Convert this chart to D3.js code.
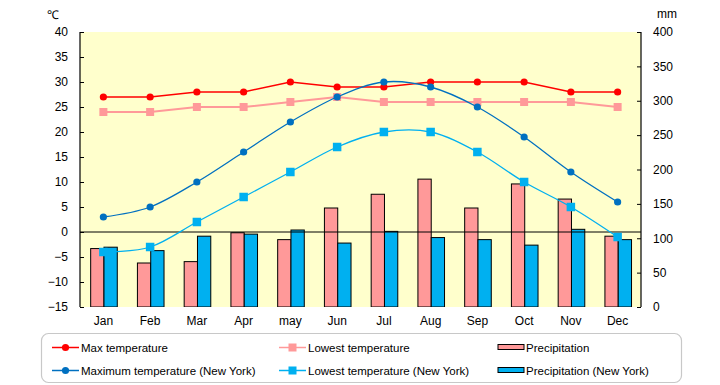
<!DOCTYPE html>
<html>
<head>
<meta charset="utf-8">
<script src="https://cdn.jsdelivr.net/npm/d3@7"></script>
<style>
  html, body { margin: 0; padding: 0; background: #fff; }
  svg text { font-family: "Liberation Sans", Arial, sans-serif; fill: #000; }
</style>
</head>
<body>
<svg id="chart" width="720" height="385"></svg>
<script>
const months = ["Jan","Feb","Mar","Apr","may","Jun","Jul","Aug","Sep","Oct","Nov","Dec"];
const maxTemp = [27,27,28,28,30,29,29,30,30,30,28,28];
const lowTemp = [24,24,25,25,26,27,26,26,26,26,26,25];
const precip = [85,64,66,108,98,144,164,186,144,179,157,103];
const maxTempNY = [3,5,10,16,22,27,30,29,25,19,12,6];
const lowTempNY = [-4,-3,2,7,12,17,20,20,16,10,5,-1];
const precipNY = [87,82,103,106,112,93,110,101,98,90,113,98];
const tempTicks = [-15,-10,-5,0,5,10,15,20,25,30,35,40];
const precipTicks = [0,50,100,150,200,250,300,350,400];

const svg = d3.select("#chart");
const L = 80, R = 641, T = 32, B = 307;

const x = d3.scaleBand().domain(months).range([L, R]).padding(0);
const yT = d3.scaleLinear().domain([-15, 40]).range([B, T]);
const yP = d3.scaleLinear().domain([0, 400]).range([B, T]);

// plot background
svg.append("rect").attr("x", L).attr("y", T).attr("width", R - L).attr("height", B - T)
  .attr("fill", "#FFFFCC");

// bars
const bw = 13.3;
const cx = m => x(m) + x.bandwidth() / 2 + 0.6;
svg.append("g").selectAll("rect").data(months).join("rect")
  .attr("x", m => cx(m) - bw).attr("width", bw)
  .attr("y", (m, i) => yP(precip[i])).attr("height", (m, i) => B - yP(precip[i]))
  .attr("fill", "#FF9999").attr("stroke", "#000").attr("stroke-width", 1);
svg.append("g").selectAll("rect").data(months).join("rect")
  .attr("x", m => cx(m)).attr("width", bw)
  .attr("y", (m, i) => yP(precipNY[i])).attr("height", (m, i) => B - yP(precipNY[i]))
  .attr("fill", "#00B0F0").attr("stroke", "#000").attr("stroke-width", 1);

// cover bar bottoms below plot
svg.append("rect").attr("x", L - 2).attr("y", B).attr("width", R - L + 4).attr("height", 4).attr("fill", "#fff");

// zero line
svg.append("line").attr("x1", L).attr("x2", R).attr("y1", yT(0)).attr("y2", yT(0))
  .attr("stroke", "#000").attr("stroke-width", 1);

// axes
const leftAxis = d3.axisLeft(yT).tickValues(tempTicks).tickSize(-4).tickPadding(12);
const gL = svg.append("g").attr("transform", `translate(${L},0)`).call(leftAxis);
const rightAxis = d3.axisRight(yP).tickValues(precipTicks).tickSize(-4).tickPadding(12);
const gR = svg.append("g").attr("transform", `translate(${R},0)`).call(rightAxis);
[gL, gR].forEach(g => {
  g.select(".domain").attr("stroke", "#000").attr("stroke-width", 1.2);
  g.selectAll(".tick line").attr("stroke", "#000");
  g.selectAll("text").attr("font-size", 12).attr("font-family", "Liberation Sans, Arial, sans-serif");
});
gL.select(".domain").attr("d", `M0,${T}V${B}`);
gR.select(".domain").attr("d", `M0,${T}V${B}`);

// x labels
const xAxis = d3.axisBottom(x).tickSize(0).tickPadding(9);
const gX = svg.append("g").attr("transform", `translate(0,${B})`).call(xAxis);
gX.select(".domain").remove();
gX.selectAll("text").attr("font-size", 12).attr("font-family", "Liberation Sans, Arial, sans-serif");

// unit labels
svg.append("text").attr("x", 53).attr("y", 19).attr("text-anchor", "middle").attr("font-size", 12).text("℃");
svg.append("text").attr("x", 667).attr("y", 18).attr("text-anchor", "middle").attr("font-size", 12).text("mm");

// lines
const series = [
  { data: lowTemp, color: "#FF9999", width: 2, marker: "square", size: 8, smooth: false },
  { data: maxTemp, color: "#FF0000", width: 1.5, marker: "circle", size: 3.6, smooth: false },
  { data: lowTempNY, color: "#00B0F0", width: 1.3, marker: "square", size: 8.5, smooth: true },
  { data: maxTempNY, color: "#0070C0", width: 1.3, marker: "circle", size: 3.6, smooth: true }
];
const px = i => x(months[i]) + x.bandwidth() / 2;
const lineSmooth = d3.line().x((d, i) => px(i)).y(d => yT(d)).curve(d3.curveCardinal.tension(0));
const lineStraight = d3.line().x((d, i) => px(i)).y(d => yT(d));
series.forEach(s => {
  svg.append("path").datum(s.data).attr("d", s.smooth ? lineSmooth : lineStraight).attr("fill", "none")
    .attr("stroke", s.color).attr("stroke-width", s.width);
  const g = svg.append("g");
  if (s.marker === "circle") {
    g.selectAll("circle").data(s.data).join("circle")
      .attr("cx", (d, i) => px(i)).attr("cy", d => yT(d)).attr("r", s.size).attr("fill", s.color);
  } else {
    g.selectAll("rect").data(s.data).join("rect")
      .attr("x", (d, i) => px(i) - s.size / 2).attr("y", d => yT(d) - s.size / 2)
      .attr("width", s.size).attr("height", s.size).attr("fill", s.color);
  }
});

// legend
svg.append("rect").attr("x", 41.5).attr("y", 333.5).attr("width", 640).attr("height", 49)
  .attr("rx", 7).attr("fill", "#fff").attr("stroke", "#C8C8C8").attr("stroke-width", 1.2);

const legendItems = [
  { label: "Max temperature", type: "line", color: "#FF0000", marker: "circle", x: 52, y: 347.5 },
  { label: "Maximum temperature (New York)", type: "line", color: "#0070C0", marker: "circle", x: 52, y: 370.5 },
  { label: "Lowest temperature", type: "line", color: "#FF9999", marker: "square", x: 279, y: 347.5 },
  { label: "Lowest temperature (New York)", type: "line", color: "#00B0F0", marker: "square", x: 279, y: 370.5 },
  { label: "Precipitation", type: "bar", color: "#FF9999", x: 498, y: 347.5 },
  { label: "Precipitation (New York)", type: "bar", color: "#00B0F0", x: 498, y: 370.5 }
];
legendItems.forEach(it => {
  const g = svg.append("g");
  let tx;
  if (it.type === "line") {
    g.append("line").attr("x1", it.x).attr("x2", it.x + 27).attr("y1", it.y).attr("y2", it.y)
      .attr("stroke", it.color).attr("stroke-width", 1.5);
    if (it.marker === "circle") {
      g.append("circle").attr("cx", it.x + 13.5).attr("cy", it.y).attr("r", 3.6).attr("fill", it.color);
    } else {
      g.append("rect").attr("x", it.x + 9.5).attr("y", it.y - 4).attr("width", 8).attr("height", 8).attr("fill", it.color);
    }
    tx = it.x + 29;
  } else {
    g.append("rect").attr("x", it.x).attr("y", it.y - 3).attr("width", 26).attr("height", 5)
      .attr("fill", it.color).attr("stroke", "#000").attr("stroke-width", 1);
    tx = it.x + 28;
  }
  g.append("text").attr("x", tx).attr("y", it.y).attr("dy", "0.35em").attr("font-size", 11.5).text(it.label);
});
</script>
</body>
</html>
